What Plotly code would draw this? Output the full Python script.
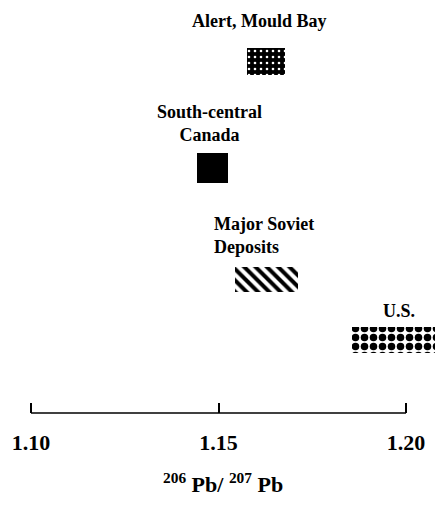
import plotly.graph_objects as go

# Data
groups = ["Alert, Mould Bay", "South-central<br>Canada", "Major Soviet<br>Deposits", "U.S."]
x_low = [1.1576, 1.1443, 1.1544, 1.1856]
x_high = [1.1677, 1.1525, 1.1712, 1.2080]
tick_vals = [1.10, 1.15, 1.20]
tick_text = ["1.10", "1.15", "1.20"]

# layout helpers (vertical placement of each group)
y_level = [8.51, 5.93, 3.23, 1.77]
box_h = [0.65, 0.73, 0.61, 0.63]
label_pos = [(1.1608, 9.49, "center"), (1.1477, 7.02, "center"), (1.1483, 4.31, "left"), (1.1981, 2.47, "center")]

patterns = [
    dict(shape=".", bgcolor="black", fgcolor="white", fgopacity=1, size=6, solidity=0.15),
    dict(shape="", bgcolor="black", fgcolor="black", fgopacity=1),
    dict(shape="\\", bgcolor="white", fgcolor="black", fgopacity=1, size=8, solidity=0.5),
    dict(shape=".", bgcolor="white", fgcolor="black", fgopacity=1, size=9, solidity=0.55),
]

fig = go.Figure()
for i, g in enumerate(groups):
    fig.add_trace(go.Bar(
        y=[y_level[i]], x=[x_high[i] - x_low[i]], base=[x_low[i]],
        orientation="h", width=[box_h[i]],
        marker=dict(color=patterns[i]["bgcolor"], line=dict(width=0), pattern=patterns[i]),
        showlegend=False, hoverinfo="skip",
    ))

font = dict(family="Liberation Serif", color="black", weight="bold")
for i, g in enumerate(groups):
    x, y, al = label_pos[i]
    fig.add_annotation(x=x, y=y, xref="x", yref="y", text=g, showarrow=False,
                       xanchor="left" if al == "left" else "center", yanchor="middle", align=al,
                       font=dict(font, size=18))

# axis line between first and last tick
fig.add_shape(type="line", xref="x", yref="paper", x0=tick_vals[0], x1=tick_vals[-1], y0=0, y1=0,
              line=dict(color="black", width=1.5))

fig.add_annotation(x=1.1512, y=-70 / 413, xref="x", yref="paper", yanchor="middle",
                   text="<sup>206</sup> Pb/ <sup>207</sup> Pb", showarrow=False,
                   font=dict(font, size=22))

fig.update_layout(
    width=435, height=506,
    margin=dict(l=0, r=0, t=0, b=93),
    paper_bgcolor="white", plot_bgcolor="white",
    xaxis=dict(range=[1.10 - 31 / 3750, 1.10 + 404 / 3750], showgrid=False, zeroline=False,
               showline=False, ticks="inside", ticklen=10, tickwidth=1.5, tickcolor="black",
               tickvals=tick_vals, ticktext=tick_text, ticklabelstandoff=14,
               tickfont=dict(font, size=22)),
    yaxis=dict(range=[0, 10], visible=False),
    bargap=0,
)

fig.write_html("out.html", config={"displayModeBar": False},
               post_script="document.body.style.margin='0';")
